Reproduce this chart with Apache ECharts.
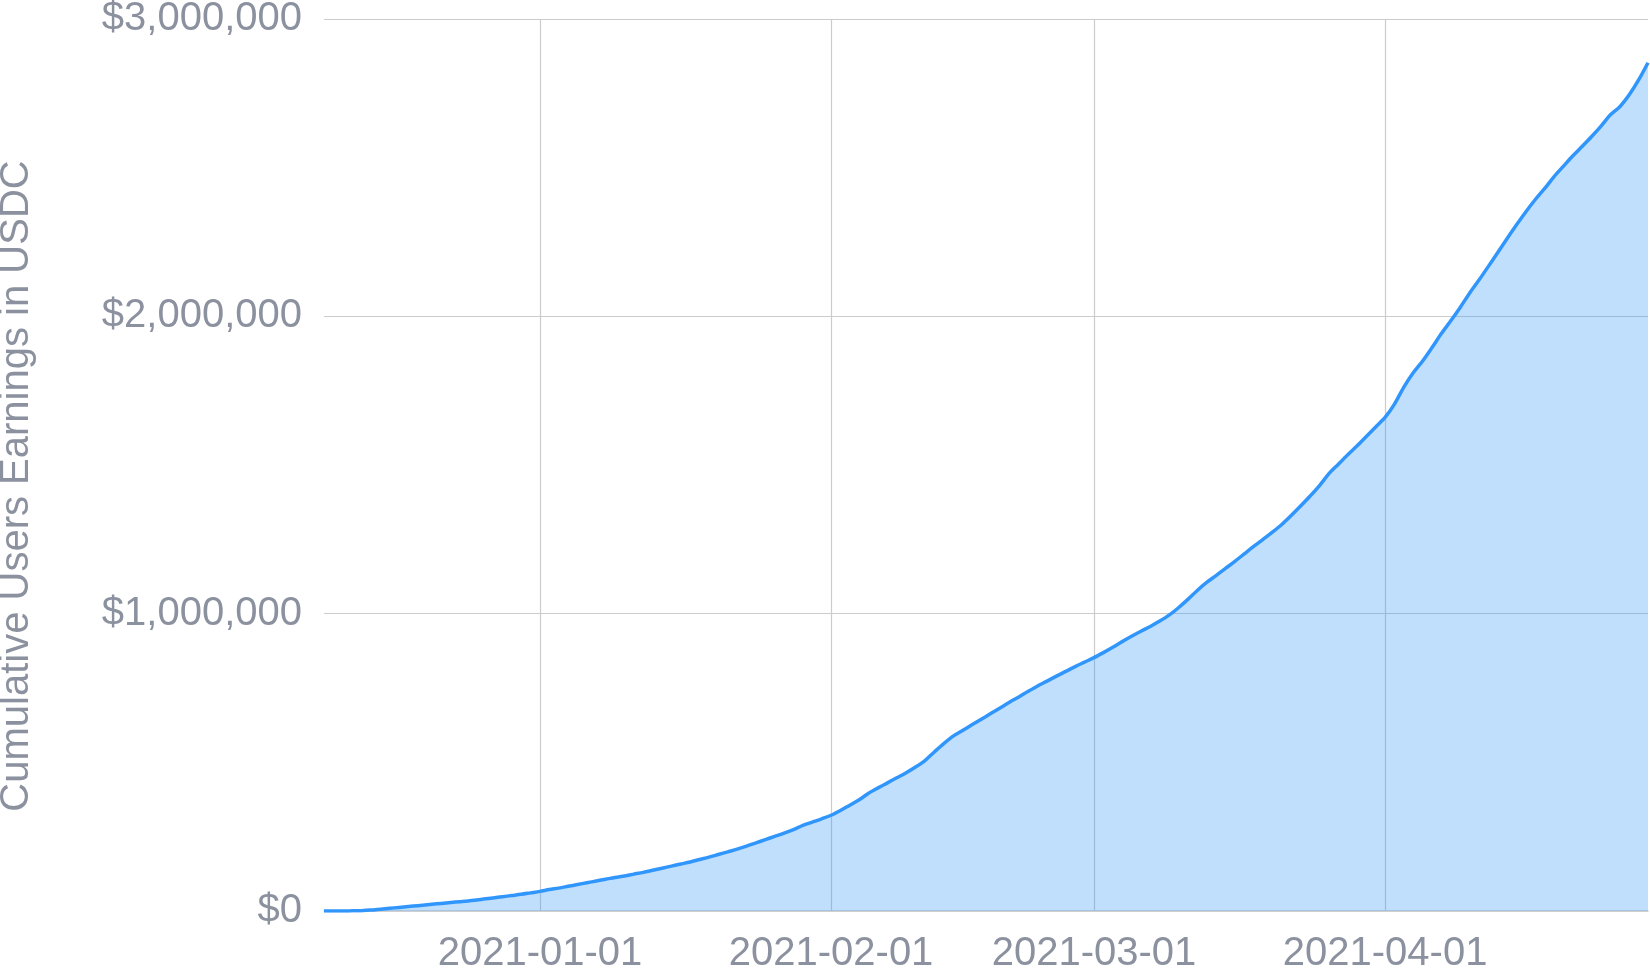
<!DOCTYPE html>
<html>
<head>
<meta charset="utf-8">
<script src="https://cdn.jsdelivr.net/npm/echarts@6/dist/echarts.min.js"></script>
<style>
html,body{margin:0;padding:0;background:#fff;}
#chart{width:1650px;height:970px;}
</style>
</head>
<body>
<div id="chart"></div>
<script>
// ---- data ----
const startDate = '2020-12-09';   // first day of the series (one value per day)
const endDate = '2021-04-29';
const earnings = [
  0, 0, 0, 500, 1000, 3000, 6000, 9000, 12000, 15000,
  18000, 21000, 24000, 27000, 30000, 33000, 36000, 40000, 44000, 48000,
  52000, 56000, 61000, 66000, 72000, 77000, 83000, 89000, 95000, 101000,
  107000, 113000, 118000, 124000, 130000, 137000, 144000, 151000, 158000, 165000,
  173000, 181000, 190000, 199000, 208000, 218000, 229000, 240000, 251000, 262000,
  274000, 288000, 299000, 310000, 322000, 338000, 356000, 374000, 396000, 414000,
  431000, 448000, 465000, 484000, 506000, 535000, 563000, 588000, 607000, 626000,
  645000, 664000, 683000, 702000, 720000, 739000, 757000, 773000, 790000, 806000,
  822000, 837000, 852000, 869000, 887000, 906000, 924000, 941000, 957000, 975000,
  995000, 1020000, 1048000, 1078000, 1105000, 1128000, 1152000, 1176000, 1201000, 1226000,
  1250000, 1274000, 1300000, 1330000, 1362000, 1395000, 1430000, 1470000, 1502000, 1534000,
  1564000, 1596000, 1628000, 1660000, 1705000, 1762000, 1810000, 1850000, 1895000, 1942000,
  1985000, 2030000, 2078000, 2122000, 2168000, 2215000, 2262000, 2308000, 2352000, 2393000,
  2430000, 2470000, 2505000, 2540000, 2572000, 2605000, 2640000, 2678000, 2705000, 2745000,
  2795000, 2853000
];
const xTickDates = ['2021-01-01', '2021-02-01', '2021-03-01', '2021-04-01'];
const yTicks = [0, 1000000, 2000000, 3000000];
const yAxisTitle = 'Cumulative Users Earnings in USDC';

// ---- build ----
const DAY = 86400000;
const toTime = s => Date.UTC(+s.slice(0, 4), +s.slice(5, 7) - 1, +s.slice(8, 10));
const t0 = toTime(startDate);
const seriesData = earnings.map((v, i) => [t0 + i * DAY, v]);
const xTickValues = xTickDates.map(toTime);
const fmtDate = ms => new Date(ms).toISOString().slice(0, 10);

const textColor = '#8b919e';
const fontFamily = '"Liberation Sans", Arial, Helvetica, sans-serif';
const chart = echarts.init(document.getElementById('chart'), null, {renderer: 'canvas'});

chart.setOption({
  animation: false,
  backgroundColor: '#ffffff',
  grid: {left: 324, right: 2, top: 19, bottom: 59, containLabel: false, outerBoundsMode: 'none'},
  xAxis: {
    type: 'value',
    min: t0,
    max: toTime(endDate),
    axisLine: {show: true, onZero: false, lineStyle: {color: '#d0d0d0', width: 1.5}},
    axisTick: {show: false, customValues: xTickValues},
    axisLabel: {
      customValues: xTickValues,
      color: textColor, fontSize: 40, fontFamily: fontFamily, margin: 23,
      hideOverlap: false,
      formatter: v => fmtDate(v)
    },
    splitLine: {show: true, lineStyle: {color: '#cccccc', width: 1.2}}
  },
  yAxis: {
    type: 'value',
    min: yTicks[0],
    max: yTicks[yTicks.length - 1],
    interval: yTicks[1] - yTicks[0],
    name: yAxisTitle,
    nameLocation: 'middle',
    nameGap: 287,
    nameRotate: 90,
    nameTextStyle: {color: textColor, fontSize: 40, fontFamily: fontFamily, padding: [0, 42, 0, 0]},
    axisLine: {show: false},
    axisTick: {show: false},
    axisLabel: {
      color: textColor, fontSize: 40, fontFamily: fontFamily, margin: 22,
      formatter: v => '$' + v.toLocaleString('en-US')
    },
    splitLine: {show: true, lineStyle: {color: '#cccccc', width: 1.2}}
  },
  series: [{
    type: 'line',
    data: seriesData,
    showSymbol: false,
    smooth: 0.3,
    lineStyle: {color: '#3096fc', width: 3.5},
    itemStyle: {color: '#3096fc'},
    areaStyle: {color: 'rgba(45,150,250,0.30)', opacity: 1},
    z: 3
  }]
});
</script>
</body>
</html>
